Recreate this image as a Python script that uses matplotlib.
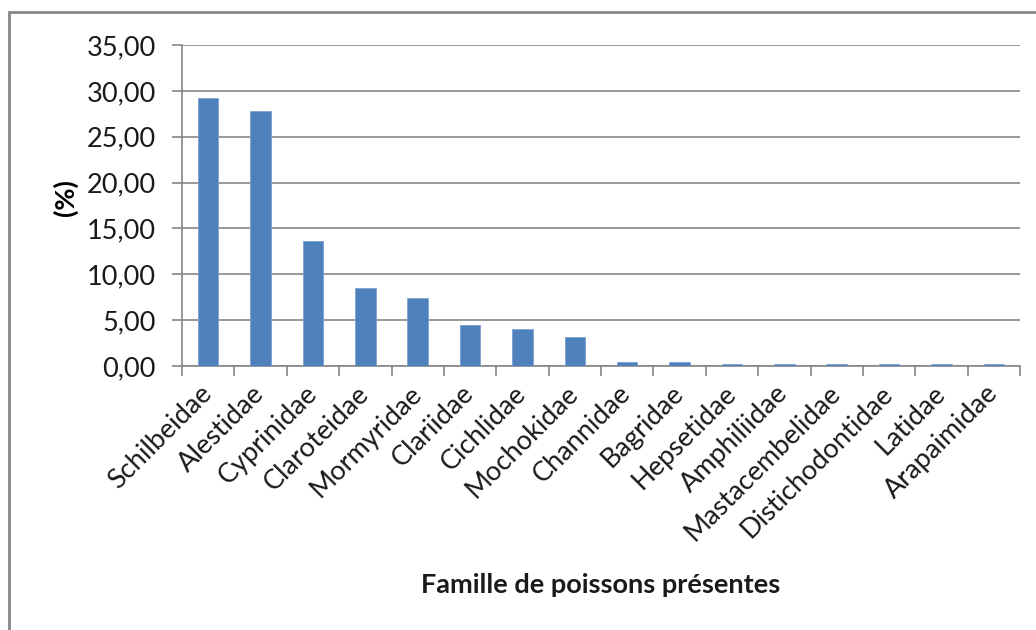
import numpy as np
import matplotlib
matplotlib.use("Agg")
import matplotlib.pyplot as plt
from matplotlib.patches import Rectangle
from matplotlib.ticker import FuncFormatter

# data
families = ["Schilbeidae", "Alestidae", "Cyprinidae", "Claroteidae", "Mormyridae",
            "Clariidae", "Cichlidae", "Mochokidae", "Channidae", "Bagridae",
            "Hepsetidae", "Amphiliidae", "Mastacembelidae", "Distichodontidae",
            "Latidae", "Arapaimidae"]
percent = [29.24, 27.85, 13.65, 8.53, 7.44, 4.43, 3.99, 3.21, 0.46, 0.46,
           0.18, 0.18, 0.18, 0.18, 0.18, 0.18]
y_ticks = [0, 5, 10, 15, 20, 25, 30, 35]

plt.rcParams["font.family"] = ["Lato", "DejaVu Sans"]
grey = "#868686"

fig = plt.figure(figsize=(10.36, 6.30), dpi=100)
ax = fig.add_axes([182 / 1036, 1 - 366 / 630, (1020 - 182) / 1036, (366 - 45) / 630])

x = np.arange(len(families))
ax.bar(x, percent, width=0.39, color="#4f81bd", edgecolor="#7ba1d3", linewidth=0.6, zorder=3)

ax.set_xlim(-0.5, len(families) - 0.5)
ax.set_ylim(0, 35)
ax.set_yticks(y_ticks)
ax.yaxis.set_major_formatter(FuncFormatter(lambda v, p: f"{v:.2f}".replace(".", ",")))
ax.grid(axis="y", color=grey, linewidth=1.2, zorder=0)
ax.tick_params(axis="y", length=7, width=1.2, color=grey, labelsize=19.5, pad=12, labelcolor="#1a1a1a")

# x ticks sit between categories, labels at the centres
ax.set_xticks(np.arange(len(families) + 1) - 0.5)
ax.set_xticklabels([])
ax.set_xticks(x, minor=True)
ax.set_xticklabels(families, minor=True, rotation=45, ha="right", va="center",
                   rotation_mode="anchor", fontsize=19.5, color="#1a1a1a")
ax.tick_params(axis="x", which="major", length=7, width=1.2, color=grey)
ax.tick_params(axis="x", which="minor", length=0, pad=17)

for side in ["top", "right"]:
    ax.spines[side].set_visible(False)
for side in ["left", "bottom"]:
    ax.spines[side].set_color(grey)
    ax.spines[side].set_linewidth(1.2)

ax.set_ylabel("(%)", fontsize=19.5, fontweight="bold", labelpad=12)
ax.yaxis.set_label_coords(-0.124, 0.526)
fig.text(601 / 1036, 1 - 585 / 630, "Famille de poissons présentes", ha="center", va="center",
         fontsize=19.5, fontweight="bold", color="#1a1a1a")

# chart frame like the spreadsheet export
fig.patches.append(Rectangle((9 / 1036, -0.2), 1.2, 1.2 - 12 / 630, transform=fig.transFigure,
                             fill=False, edgecolor=grey, linewidth=2))

fig.savefig("out.png", dpi=100, facecolor="white")
